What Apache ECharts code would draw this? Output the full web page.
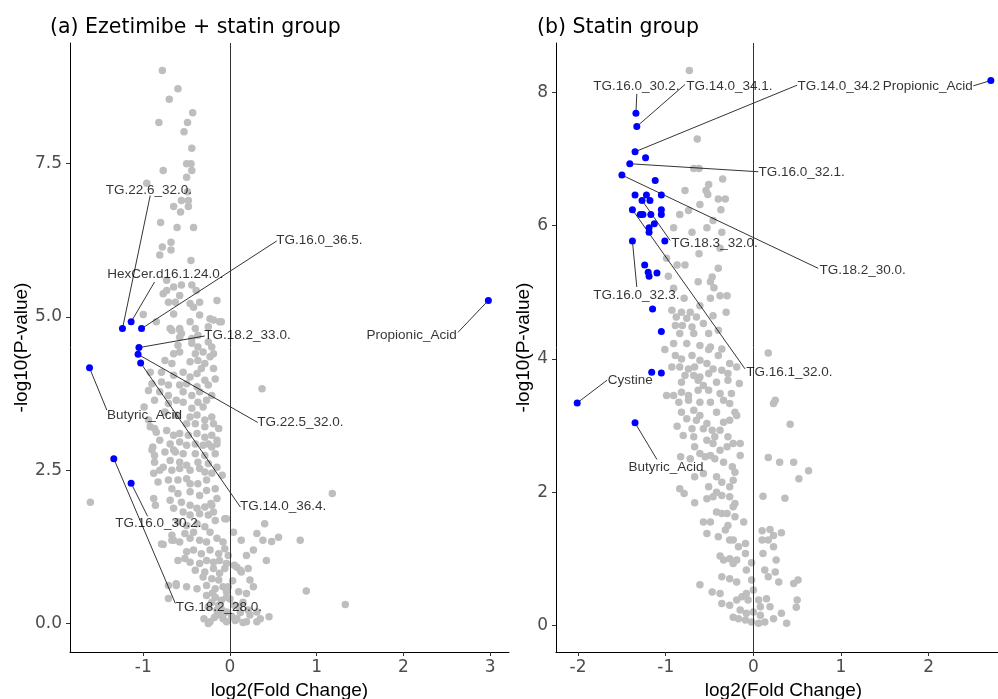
<!DOCTYPE html>
<html>
<head>
<meta charset="utf-8">
<script src="https://cdn.jsdelivr.net/npm/echarts@6/dist/echarts.min.js"></script>
<style>
html, body { margin: 0; padding: 0; background: #fff; }
#chart { width: 998px; height: 699px; }
</style>
</head>
<body>
<div id="chart"></div>
<script>
// ---- panel (a): Ezetimibe + statin group ----
const greyA = [
    [-0.78,9.02],[-0.60,8.72],[-0.70,8.55],[-0.43,8.33],[-0.82,8.17],[-0.49,8.17],[-0.53,8.02],[-0.44,7.75],
    [-0.50,7.50],[-0.45,7.50],[-0.77,7.39],[-0.44,7.39],[-0.50,7.28],[-0.96,7.18],[-0.49,7.04],[-0.56,6.90],
    [-0.48,6.90],[-0.65,6.80],[-0.48,6.80],[-0.57,6.71],[-0.80,6.54],[-0.61,6.46],[-0.42,6.46],[-0.68,6.22],
    [-0.78,6.14],[-0.68,6.09],[-0.81,6.01],[-0.45,5.92],
    [-0.73,5.60],[-0.65,5.49],[-0.56,5.52],[-0.44,5.52],[-0.39,5.43],[-0.77,5.38],[-0.58,5.35],[-0.71,5.24],
    [-0.63,5.24],[-0.46,5.22],[-0.42,5.16],[-0.15,5.27],[-0.65,5.05],[-0.35,5.03],[-1.00,5.04],[-0.23,4.97],
    [-0.10,4.92],[-0.85,4.92],[-0.58,4.81],[-0.67,4.78],[-0.56,4.73],[-0.37,4.70],[-0.73,5.43],[-0.35,5.24],
    [-0.19,4.95],[-0.46,4.92],
    [-0.69,4.81],[-0.58,4.79],[-0.40,4.81],[-0.25,4.84],[-0.12,4.92],
    [-0.58,4.67],[-0.44,4.65],[-0.60,4.54],[-0.44,4.57],[-0.37,4.51],[-0.25,4.59],[-0.21,4.51],
    [-0.65,4.40],[-0.58,4.43],[-0.40,4.40],[-0.31,4.43],[-0.23,4.35],[-0.19,4.40],
    [-0.75,4.29],[-0.67,4.24],[-0.46,4.27],[-0.37,4.29],[-0.29,4.24],[-0.33,4.16],[-0.19,4.16],
    [-0.92,4.10],[-0.79,4.10],[-0.65,4.05],[-0.54,4.10],[-0.46,4.02],[-0.38,4.08],[-0.29,3.97],[-0.17,3.99],
    [-0.90,3.91],[-0.79,3.94],[-0.71,3.89],[-0.58,3.89],[-0.50,3.91],[-0.38,3.86],[-0.25,3.89],
    [-0.94,3.80],[-0.81,3.78],[-0.71,3.72],[-0.54,3.78],[-0.44,3.72],[-0.35,3.78],[-0.21,3.72],
    [-0.87,3.64],[-0.71,3.59],[-0.62,3.64],[-0.54,3.61],[-0.37,3.61],[-0.27,3.64],[-0.31,3.53],[-0.44,3.51],
    [-0.46,3.37],[-0.38,3.40],[-0.29,3.32],[-0.21,3.37],[-0.50,3.26],[-0.40,3.26],[-0.29,3.21],[-0.19,3.26],[-0.13,3.18],
    [-0.92,3.21],[-0.85,3.12],[-0.73,3.15],[-0.65,3.07],[-0.58,3.10],[-0.48,3.07],[-0.38,3.10],[-0.29,3.04],[-0.21,3.07],[-0.15,2.99],
    [-0.81,2.99],[-0.69,2.93],[-0.58,2.96],[-0.50,2.91],[-0.40,2.93],[-0.31,2.91],[-0.21,2.88],
    [-0.90,2.83],[-0.75,2.80],[-0.63,2.80],[-0.54,2.77],[-0.40,2.77],[-0.29,2.74],[-0.17,2.77],
    [-0.87,2.63],[-0.69,2.66],[-0.58,2.63],[-0.50,2.58],[-0.37,2.63],[-0.25,2.61],[-0.15,2.55],
    [-0.99,3.53],[-0.94,3.32],[-0.87,3.18],[-0.89,2.88],[-0.87,2.74],[-0.77,2.55],[-0.65,2.83],[0.37,3.83],
    [-0.25,2.93],[-0.15,2.93],[-0.09,2.42],[-0.75,3.45],[-0.62,3.40],
    [-0.88,2.45],[-0.81,2.50],[-0.67,2.50],[-0.58,2.53],[-0.46,2.50],[-0.35,2.53],[-0.29,2.47],[-0.21,2.45],
    [-0.83,2.31],[-0.71,2.34],[-0.60,2.34],[-0.50,2.36],[-0.46,2.28],[-0.37,2.28],[-0.27,2.34],[-0.17,2.20],
    [-0.67,2.20],[-0.60,2.12],[-0.46,2.15],[-0.35,2.09],[-0.27,2.17],
    [-0.88,2.04],[-0.86,1.93],[-0.69,2.01],[-0.56,1.98],[-0.46,1.93],[-0.38,1.88],[-0.29,1.90],[-0.21,1.93],[-0.15,2.04],
    [-0.65,1.88],[-0.54,1.82],[-0.46,1.77],[-0.35,1.79],[-0.25,1.77],[-0.19,1.82],[-0.17,1.68],[-0.06,1.71],
    [-0.60,1.66],[-0.50,1.60],[-0.38,1.63],[-0.29,1.58],[-0.23,1.49],[-0.42,1.49],[-0.52,1.47],[-0.67,1.44],[-0.79,1.30],
    [-0.67,1.36],[-0.58,1.33],[-0.46,1.39],[-0.35,1.36],[-0.27,1.33],[-0.15,1.39],[-0.08,1.33],
    [-0.50,1.17],[-0.42,1.20],[-0.33,1.14],[-0.23,1.20],[-0.13,1.14],[-0.06,1.22],[-0.02,1.11],
    [-0.60,1.03],[-0.46,1.00],[-0.35,0.98],[-0.27,1.03],[-0.19,1.00],[-0.12,1.03],[-0.04,0.98],
    [-0.40,0.87],[-0.29,0.84],[-0.19,0.90],[-0.12,0.82],[-0.06,0.90],[-0.31,0.76],[-0.21,0.73],[-0.13,0.71],
    [-0.62,0.65],[-0.50,0.60],[-0.38,0.57],[-0.27,0.62],[-0.17,0.57],[-0.08,0.60],[-0.04,0.52],
    [-0.71,0.41],[-0.27,0.46],[-0.17,0.43],[-0.10,0.38],[-0.04,0.43],[-0.21,0.35],[-0.13,0.30],
    [-0.25,0.27],[-0.10,0.24],[-0.04,0.19],[-0.15,0.14],[-0.08,0.08],[-0.23,0.03],[-0.04,0.03],
    [0.04,1.49],[0.13,1.36],[0.19,1.11],[0.27,1.20],[0.08,0.92],[0.13,0.84],[0.23,0.71],[0.10,0.52],
    [0.19,0.49],[0.15,0.35],[0.10,0.27],[0.23,0.14],[0.31,0.19],[0.08,0.08],[0.19,0.03],[0.35,0.08],
    [1.18,2.12],[0.40,1.63],[0.31,1.47],[0.38,1.36],[0.48,1.34],[0.56,1.41],[0.81,1.36],[0.42,1.03],
    [0.88,0.53],[1.33,0.31],[0.45,0.11],[0.31,0.03],[0.21,0.22],[0.27,0.60],[0.21,0.90],[0.12,0.87],
    [-0.04,1.71],[-0.22,1.96],[-1.61,1.98],
    [-0.77,1.29],[-0.71,0.62],[-0.62,0.62],[-0.65,1.36],[-0.52,1.06],
    [-0.18,0.10],[-0.12,0.15],[0.02,0.12],[0.05,0.30],[0.00,0.40],[-0.02,0.60],[0.03,0.70],[-0.30,0.08],
    [-0.08,0.15],[0.12,0.18],[0.06,0.05],[-0.15,0.22],[0.15,0.02],[-0.20,0.50],[0.05,0.95],[-0.25,0.00]
];
// [name, log2FC, -log10P]
const blueA = [
    ['TG.22.6_32.0.', -1.24, 4.81],
    ['HexCer.d16.1.24.0.', -1.14, 4.92],
    ['TG.16.0_36.5.', -1.02, 4.81],
    ['TG.18.2_33.0.', -1.05, 4.50],
    ['TG.22.5_32.0.', -1.06, 4.39],
    ['TG.14.0_36.4.', -1.03, 4.25],
    ['Butyric_Acid', -1.62, 4.17],
    ['TG.18.2_28.0.', -1.34, 2.69],
    ['TG.16.0_30.2.', -1.14, 2.29],
    ['Propionic_Acid', 2.98, 5.27]
];
// [name, text x, text y, align, segment end x, segment end y]
const labelA = [
    ['TG.22.6_32.0.', -0.93, 7.05, 'center', -0.92, 6.98],
    ['HexCer.d16.1.24.0.', -0.74, 5.68, 'center', -0.87, 5.57],
    ['TG.16.0_36.5.', 0.54, 6.24, 'left', 0.54, 6.24],
    ['TG.18.2_33.0.', -0.29, 4.69, 'left', -0.29, 4.69],
    ['TG.22.5_32.0.', 0.32, 3.28, 'left', 0.32, 3.28],
    ['TG.14.0_36.4.', 0.12, 1.90, 'left', 0.12, 1.90],
    ['Butyric_Acid', -0.98, 3.39, 'center', -1.42, 3.48],
    ['TG.18.2_28.0.', -0.62, 0.25, 'left', -0.63, 0.33],
    ['TG.16.0_30.2.', -0.82, 1.62, 'center', -0.95, 1.75],
    ['Propionic_Acid', 2.62, 4.70, 'right', 2.63, 4.75]
];

// ---- panel (b): Statin group ----
const greyB = [
    [-0.73,8.33],[-0.64,7.30],[-0.68,6.86],[-0.62,6.86],[-0.35,6.70],[-0.51,6.62],[-0.54,6.53],[-0.52,6.47],
    [-0.78,6.53],[-0.40,6.40],[-0.32,6.40],
    [-0.61,6.32],[-0.74,6.23],[-0.84,6.17],[-0.37,6.24],[-0.46,6.08],[-0.91,5.97],[-0.70,5.90],[-0.53,5.97],
    [-0.36,5.90],[-0.38,5.66],[-0.62,5.58],[-0.99,5.51],[-0.78,5.41],[-0.87,5.41],[-0.40,5.36],[-0.97,5.24],
    [-0.47,5.23],[-0.49,5.16],[-0.63,5.16],[-0.45,5.07],[-0.91,5.06],[-0.38,4.95],[-0.30,4.95],[-0.49,4.91],
    [-0.79,4.91],[-0.61,4.80],[-0.93,4.73],[-0.82,4.70],[-0.72,4.70],[-0.31,4.70],[-0.88,4.63],[-0.76,4.61],
    [-0.65,4.63],[-0.46,4.65],[-0.89,4.50],[-0.81,4.50],[-0.70,4.48],[-0.57,4.53],[-0.84,4.38],[-0.68,4.38],
    [-0.51,4.38],[-0.40,4.43],[-0.91,4.23],[-0.76,4.23],[-0.61,4.20],[-0.49,4.18],[0.17,4.09],
    [-1.01,4.14],[-0.89,4.05],[-0.82,4.00],[-0.70,4.05],[-0.61,3.98],[-0.51,4.14],[-0.40,4.05],[-0.36,4.15],
    [-0.27,3.93],[-0.19,3.88],[-0.93,3.88],[-0.84,3.88],[-0.74,3.85],[-0.67,3.88],[-0.53,3.93],[-0.46,3.85],[-0.36,3.83],
    [-0.78,3.75],[-0.68,3.75],[-0.61,3.73],[-0.51,3.78],[-0.29,3.78],[-0.82,3.65],[-0.63,3.68],[-0.57,3.60],
    [-0.42,3.65],[-0.29,3.68],[-0.16,3.63],
    [-0.99,3.45],[-0.91,3.45],[-0.82,3.50],[-0.74,3.45],[-0.63,3.53],[-0.51,3.53],[-0.38,3.48],[-0.25,3.48],
    [-0.85,3.35],[-0.74,3.38],[-0.61,3.35],[-0.49,3.35],[-0.34,3.38],[-0.27,3.33],[0.25,3.38],[0.23,3.33],
    [-0.82,3.20],[-0.68,3.23],[-0.61,3.15],[-0.42,3.20],[-0.21,3.20],[-0.19,3.15],
    [-0.76,3.10],[-0.65,3.08],[-0.53,3.03],[-0.34,3.05],[-0.27,3.08],
    [-0.87,2.99],[-0.70,2.95],[-0.57,2.95],[-0.47,2.93],[-0.38,2.93],[0.42,3.02],
    [-0.80,2.85],[-0.68,2.83],[-0.53,2.78],[-0.44,2.83],[-0.29,2.83],[-0.23,2.73],[-0.15,2.73],[-0.46,2.73],
    [-0.67,2.68],[-0.61,2.58],[-0.49,2.55],[-0.38,2.63],[-0.30,2.68],[-0.15,2.55],
    [-0.83,2.53],[-0.72,2.50],[-0.55,2.53],[-0.44,2.50],[-0.34,2.45],[-0.24,2.38],[-0.21,2.30],
    [0.17,2.52],[0.30,2.45],[0.46,2.45],[0.63,2.32],[0.52,2.20],
    [-0.67,2.23],[-0.57,2.28],[-0.42,2.23],[-0.36,2.15],[-0.23,2.18],[-0.27,2.08],[-0.51,2.08],
    [-0.84,2.05],[-0.79,1.98],[-0.67,1.84],[-0.53,1.90],[-0.46,1.93],[-0.42,2.00],[-0.36,1.95],[-0.27,1.93],[-0.21,1.83],
    [0.11,1.94],[0.36,1.91],
    [-0.57,1.55],[-0.49,1.55],[-0.42,1.70],[-0.36,1.68],[-0.30,1.68],[-0.23,1.78],[-0.21,1.63],[-0.11,1.55],
    [-0.53,1.38],[-0.40,1.33],[-0.32,1.43],[-0.29,1.50],[-0.27,1.28],[-0.23,1.28],[-0.17,1.18],[-0.09,1.23],
    [0.10,1.42],[0.19,1.44],[0.23,1.35],[0.32,1.39],[0.10,1.28],[0.17,1.28],[0.23,1.18],[0.11,1.08],
    [-0.38,1.04],[-0.34,0.98],[-0.27,1.00],[-0.23,0.93],[-0.19,0.98],[-0.09,1.08],[-0.08,0.83],[-0.02,0.94],
    [0.26,0.98],[0.13,0.83],[0.25,0.80],[0.17,0.73],[0.29,0.65],
    [-0.61,0.61],[-0.47,0.50],[-0.38,0.48],[-0.36,0.73],[-0.27,0.70],[-0.19,0.65],[-0.02,0.68],[0.00,0.53],
    [0.46,0.63],[0.51,0.68],[0.50,0.38],[0.49,0.27],
    [-0.36,0.33],[-0.27,0.30],[-0.19,0.38],[-0.13,0.43],[-0.08,0.48],[-0.06,0.38],[0.06,0.38],[0.15,0.40],
    [0.19,0.28],[0.08,0.28],
    [-0.15,0.23],[-0.08,0.18],[0.00,0.20],[0.08,0.15],[-0.23,0.12],[-0.17,0.10],[-0.09,0.08],[-0.02,0.05],
    [0.06,0.03],[0.13,0.05],[0.23,0.10],[0.32,0.18],[0.38,0.03]
];
const blueB = [
    ['TG.16.0_30.2.', -1.34, 7.69],
    ['TG.14.0_34.1.', -1.33, 7.49],
    ['TG.14.0_34.2', -1.35, 7.11],
    ['TG.16.0_32.1.', -1.41, 6.93],
    ['TG.18.2_30.0.', -1.50, 6.76],
    ['TG.18.3_32.0.', -1.27, 6.38],
    ['TG.16.1_32.0.', -1.38, 6.24],
    ['TG.16.0_32.3.', -1.38, 5.77],
    ['Cystine', -2.01, 3.34],
    ['Butyric_Acid', -1.35, 3.04],
    ['Propionic_Acid', 2.71, 8.18],
    ['', -1.23, 7.02], ['', -1.12, 6.68], ['', -1.35, 6.46], ['', -1.05, 6.46], ['', -1.22, 6.46],
    ['', -1.18, 6.38], ['', -1.29, 6.17], ['', -1.26, 6.17], ['', -1.17, 6.17], ['', -1.05, 6.24],
    ['', -1.05, 6.17], ['', -1.13, 6.03], ['', -1.19, 5.97], ['', -1.19, 5.90], ['', -1.01, 5.77],
    ['', -1.24, 5.41], ['', -1.20, 5.30], ['', -1.19, 5.24], ['', -1.10, 5.29], ['', -1.15, 4.75],
    ['', -1.05, 4.41], ['', -1.05, 3.79], ['', -1.16, 3.80]
];
const labelB = [
    ['TG.16.0_30.2.', -1.33, 8.09, 'center', -1.33, 7.98],
    ['TG.14.0_34.1.', -0.76, 8.09, 'left', -0.78, 8.12],
    ['TG.14.0_34.2', 0.51, 8.09, 'left', 0.50, 8.11],
    ['Propionic_Acid', 2.51, 8.09, 'right', 2.51, 8.10],
    ['TG.16.0_32.1.', 0.065, 6.80, 'left', 0.057, 6.81],
    ['TG.18.2_30.0.', 0.76, 5.33, 'left', 0.74, 5.36],
    ['TG.18.3_32.0.', -0.93, 5.73, 'left', -0.95, 5.78],
    ['TG.16.0_32.3.', -1.33, 4.95, 'center', -1.33, 5.08],
    ['TG.16.1_32.0.', -0.075, 3.79, 'left', -0.095, 3.85],
    ['Cystine', -1.40, 3.67, 'center', -1.67, 3.68],
    ['Butyric_Acid', -0.99, 2.36, 'center', -1.10, 2.49]
];

// axis ticks
const xTicksA = [-1, 0, 1, 2, 3];
const yTicksA = [0, 2.5, 5, 7.5];
const xTicksB = [-2, -1, 0, 1, 2];
const yTicksB = [0, 2, 4, 6, 8];

const chart = echarts.init(document.getElementById('chart'));

function makeXAxis(idx, min, max, ticks) {
    return {
        type: 'value', gridIndex: idx, min: min, max: max,
        name: 'log2(Fold Change)', nameLocation: 'middle', nameGap: 27,
        nameTextStyle: { fontFamily: 'Liberation Sans', fontSize: 19, color: '#000' },
        axisLine: { onZero: false, lineStyle: { color: '#000', width: 1 } },
        axisTick: { show: true, length: 4, customValues: ticks, lineStyle: { color: '#333' } },
        axisLabel: { customValues: ticks, margin: 7, fontFamily: 'DejaVu Sans', fontSize: 17, color: '#4D4D4D' },
        splitLine: { show: false }
    };
}

function makeYAxis(idx, min, max, ticks, gap, fmt) {
    return {
        type: 'value', gridIndex: idx, min: min, max: max,
        name: '-log10(P-value)', nameLocation: 'middle', nameGap: gap,
        nameTextStyle: { fontFamily: 'Liberation Sans', fontSize: 19, color: '#000' },
        axisLine: { show: true, onZero: false, lineStyle: { color: '#000', width: 1 } },
        axisTick: { show: true, length: 4, customValues: ticks, lineStyle: { color: '#333' } },
        axisLabel: { customValues: ticks, margin: 8, fontFamily: 'DejaVu Sans', fontSize: 17, color: '#4D4D4D', formatter: fmt },
        splitLine: { show: false }
    };
}

function panelSeries(idx, grey, blue, labels) {
    const lookup = {};
    blue.forEach(b => { if (b[0]) lookup[b[0]] = [b[1], b[2]]; });
    return [
        {
            type: 'scatter', xAxisIndex: idx, yAxisIndex: idx, z: 2,
            symbolSize: 7.5, itemStyle: { color: '#BEBEBE', opacity: 1 },
            data: grey, silent: true,
            markLine: {
                silent: true, symbol: 'none', label: { show: false },
                lineStyle: { color: '#333', width: 1, type: 'solid' },
                data: [{ xAxis: 0 }]
            }
        },
        {
            type: 'lines', coordinateSystem: 'cartesian2d', xAxisIndex: idx, yAxisIndex: idx, z: 3,
            silent: true,
            lineStyle: { color: '#000', width: 0.8, opacity: 1 },
            data: labels.map(l => ({ coords: [lookup[l[0]], [l[4], l[5]]] }))
        },
        {
            type: 'scatter', xAxisIndex: idx, yAxisIndex: idx, z: 4,
            symbolSize: 7, itemStyle: { color: '#0000FF', opacity: 1 },
            data: blue.map(b => [b[1], b[2]])
        },
        {
            type: 'scatter', xAxisIndex: idx, yAxisIndex: idx, z: 5,
            symbolSize: 1, itemStyle: { color: 'rgba(0,0,0,0)' }, silent: true,
            data: labels.map(l => ({
                value: [l[1], l[2]], name: l[0],
                label: { align: l[3] }
            })),
            label: {
                show: true, position: [0, 0], verticalAlign: 'middle',
                formatter: p => p.name,
                fontFamily: 'Liberation Sans', fontSize: 13.5, color: '#000'
            }
        }
    ];
}

const option = {
    animation: false,
    backgroundColor: '#fff',
    title: [
        { text: '(a) Ezetimibe + statin group', left: 45, top: 12,
          textStyle: { fontFamily: 'DejaVu Sans', fontSize: 20.5, fontWeight: 'normal', color: '#000' } },
        { text: '(b) Statin group', left: 532, top: 12,
          textStyle: { fontFamily: 'DejaVu Sans', fontSize: 20.5, fontWeight: 'normal', color: '#000' } }
    ],
    grid: [
        { left: 70, top: 43, width: 439, height: 609, outerBoundsMode: 'none' },
        { left: 556, top: 43, width: 455, height: 609, outerBoundsMode: 'none' }
    ],
    xAxis: [
        makeXAxis(0, -1.845, 3.218, xTicksA),
        makeXAxis(1, -2.252, 2.94, xTicksB)
    ],
    yAxis: [
        makeYAxis(0, -0.463, 9.467, yTicksA, 35, v => v.toFixed(1)),
        makeYAxis(1, -0.40, 8.743, yTicksB, 19, v => String(v))
    ],
    series: panelSeries(0, greyA, blueA, labelA).concat(panelSeries(1, greyB, blueB, labelB))
};

chart.setOption(option);
</script>
</body>
</html>
